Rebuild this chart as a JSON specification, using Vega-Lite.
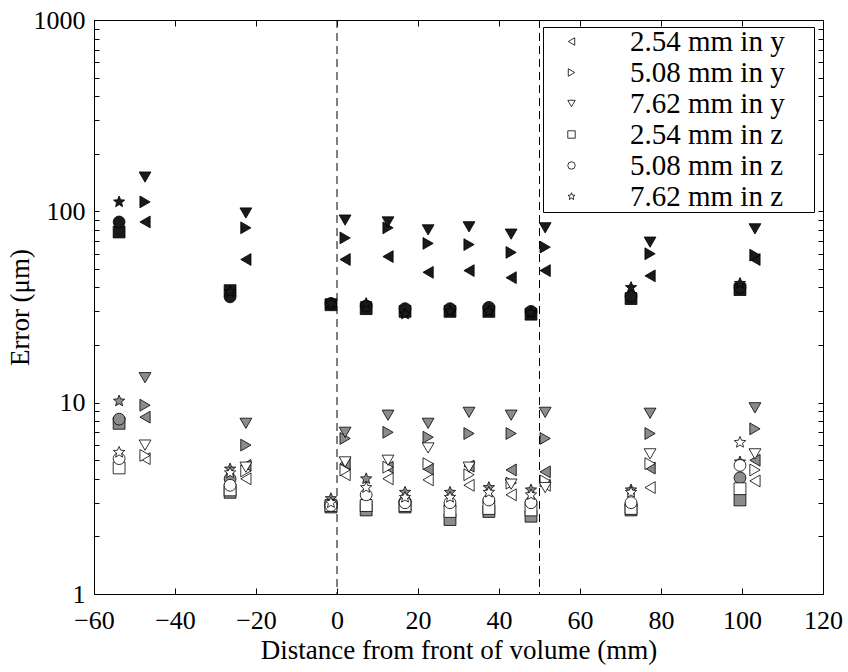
{
  "$schema": "https://vega.github.io/schema/vega-lite/v6.json",
  "autosize": {"type": "none"},
  "padding": {"left": 94, "top": 20, "right": 25, "bottom": 78},
  "width": 729,
  "height": 574,
  "background": "white",
  "config": {
    "view": {"stroke": "black", "strokeWidth": 1},
    "font": "Liberation Serif",
    "text": {"font": "Liberation Serif"},
    "legend": {"labelFont": "Liberation Serif", "titleFont": "Liberation Serif"},
    "axis": {"labelFont": "Liberation Serif", "titleFont": "Liberation Serif", "labelFontSize": 26, "titleFontSize": 27, "titleFontWeight": "normal", "labelColor": "black", "titleColor": "black", "grid": false, "domain": false, "tickColor": "black", "tickSize": -6, "tickWidth": 1, "labelFlush": false, "labelOverlap": false}
  },
  "datasets": {
    "pts": [
      {"d": -53.8, "s": "2.54 mm in z", "k": "max", "e": 78},
      {"d": -53.8, "s": "5.08 mm in z", "k": "max", "e": 88},
      {"d": -53.8, "s": "7.62 mm in z", "k": "max", "e": 112},
      {"d": -26.4, "s": "2.54 mm in z", "k": "max", "e": 38.5},
      {"d": -26.4, "s": "5.08 mm in z", "k": "max", "e": 35.7},
      {"d": -26.4, "s": "7.62 mm in z", "k": "max", "e": 38},
      {"d": -1.5, "s": "2.54 mm in z", "k": "max", "e": 32.5},
      {"d": -1.5, "s": "5.08 mm in z", "k": "max", "e": 33},
      {"d": -1.5, "s": "7.62 mm in z", "k": "max", "e": 33},
      {"d": 7.2, "s": "2.54 mm in z", "k": "max", "e": 31},
      {"d": 7.2, "s": "5.08 mm in z", "k": "max", "e": 32},
      {"d": 7.2, "s": "7.62 mm in z", "k": "max", "e": 33},
      {"d": 16.8, "s": "2.54 mm in z", "k": "max", "e": 30},
      {"d": 16.8, "s": "5.08 mm in z", "k": "max", "e": 31},
      {"d": 16.8, "s": "7.62 mm in z", "k": "max", "e": 29},
      {"d": 27.9, "s": "2.54 mm in z", "k": "max", "e": 30},
      {"d": 27.9, "s": "5.08 mm in z", "k": "max", "e": 31},
      {"d": 27.9, "s": "7.62 mm in z", "k": "max", "e": 30},
      {"d": 37.5, "s": "2.54 mm in z", "k": "max", "e": 30},
      {"d": 37.5, "s": "5.08 mm in z", "k": "max", "e": 31.5},
      {"d": 37.5, "s": "7.62 mm in z", "k": "max", "e": 30},
      {"d": 47.9, "s": "2.54 mm in z", "k": "max", "e": 29},
      {"d": 47.9, "s": "5.08 mm in z", "k": "max", "e": 30},
      {"d": 47.9, "s": "7.62 mm in z", "k": "max", "e": 29.5},
      {"d": 72.6, "s": "2.54 mm in z", "k": "max", "e": 35},
      {"d": 72.6, "s": "5.08 mm in z", "k": "max", "e": 36},
      {"d": 72.6, "s": "7.62 mm in z", "k": "max", "e": 40},
      {"d": 99.5, "s": "2.54 mm in z", "k": "max", "e": 39},
      {"d": 99.5, "s": "5.08 mm in z", "k": "max", "e": 40},
      {"d": 99.5, "s": "7.62 mm in z", "k": "max", "e": 42},
      {"d": -47.4, "s": "2.54 mm in y", "k": "max", "e": 88},
      {"d": -47.4, "s": "5.08 mm in y", "k": "max", "e": 112},
      {"d": -47.4, "s": "7.62 mm in y", "k": "max", "e": 151},
      {"d": -22.5, "s": "2.54 mm in y", "k": "max", "e": 56},
      {"d": -22.5, "s": "5.08 mm in y", "k": "max", "e": 82},
      {"d": -22.5, "s": "7.62 mm in y", "k": "max", "e": 98},
      {"d": 2, "s": "2.54 mm in y", "k": "max", "e": 56},
      {"d": 2, "s": "5.08 mm in y", "k": "max", "e": 72.6},
      {"d": 2, "s": "7.62 mm in y", "k": "max", "e": 90},
      {"d": 12.6, "s": "2.54 mm in y", "k": "max", "e": 58},
      {"d": 12.6, "s": "5.08 mm in y", "k": "max", "e": 82},
      {"d": 12.6, "s": "7.62 mm in y", "k": "max", "e": 88},
      {"d": 22.5, "s": "2.54 mm in y", "k": "max", "e": 48},
      {"d": 22.5, "s": "5.08 mm in y", "k": "max", "e": 68},
      {"d": 22.5, "s": "7.62 mm in y", "k": "max", "e": 80},
      {"d": 32.6, "s": "2.54 mm in y", "k": "max", "e": 49},
      {"d": 32.6, "s": "5.08 mm in y", "k": "max", "e": 67},
      {"d": 32.6, "s": "7.62 mm in y", "k": "max", "e": 83},
      {"d": 43, "s": "2.54 mm in y", "k": "max", "e": 45},
      {"d": 43, "s": "5.08 mm in y", "k": "max", "e": 61},
      {"d": 43, "s": "7.62 mm in y", "k": "max", "e": 76},
      {"d": 51.4, "s": "2.54 mm in y", "k": "max", "e": 49},
      {"d": 51.4, "s": "5.08 mm in y", "k": "max", "e": 65},
      {"d": 51.4, "s": "7.62 mm in y", "k": "max", "e": 82},
      {"d": 77.3, "s": "2.54 mm in y", "k": "max", "e": 46},
      {"d": 77.3, "s": "5.08 mm in y", "k": "max", "e": 60},
      {"d": 77.3, "s": "7.62 mm in y", "k": "max", "e": 69},
      {"d": 103.2, "s": "2.54 mm in y", "k": "max", "e": 56},
      {"d": 103.2, "s": "5.08 mm in y", "k": "max", "e": 59},
      {"d": 103.2, "s": "7.62 mm in y", "k": "max", "e": 81},
      {"d": -53.8, "s": "2.54 mm in z", "k": "mid", "e": 7.8},
      {"d": -53.8, "s": "5.08 mm in z", "k": "mid", "e": 8.2},
      {"d": -53.8, "s": "7.62 mm in z", "k": "mid", "e": 10.2},
      {"d": -26.4, "s": "2.54 mm in z", "k": "mid", "e": 3.4},
      {"d": -26.4, "s": "5.08 mm in z", "k": "mid", "e": 4.0},
      {"d": -26.4, "s": "7.62 mm in z", "k": "mid", "e": 4.5},
      {"d": -1.5, "s": "2.54 mm in z", "k": "mid", "e": 2.85},
      {"d": -1.5, "s": "5.08 mm in z", "k": "mid", "e": 2.95},
      {"d": -1.5, "s": "7.62 mm in z", "k": "mid", "e": 3.15},
      {"d": 7.2, "s": "2.54 mm in z", "k": "mid", "e": 2.75},
      {"d": 7.2, "s": "5.08 mm in z", "k": "mid", "e": 3.0},
      {"d": 7.2, "s": "7.62 mm in z", "k": "mid", "e": 4.0},
      {"d": 16.8, "s": "2.54 mm in z", "k": "mid", "e": 2.85},
      {"d": 16.8, "s": "5.08 mm in z", "k": "mid", "e": 3.05},
      {"d": 16.8, "s": "7.62 mm in z", "k": "mid", "e": 3.4},
      {"d": 27.9, "s": "2.54 mm in z", "k": "mid", "e": 2.45},
      {"d": 27.9, "s": "5.08 mm in z", "k": "mid", "e": 2.9},
      {"d": 27.9, "s": "7.62 mm in z", "k": "mid", "e": 3.4},
      {"d": 37.5, "s": "2.54 mm in z", "k": "mid", "e": 2.7},
      {"d": 37.5, "s": "5.08 mm in z", "k": "mid", "e": 3.05},
      {"d": 37.5, "s": "7.62 mm in z", "k": "mid", "e": 3.6},
      {"d": 47.9, "s": "2.54 mm in z", "k": "mid", "e": 2.55},
      {"d": 47.9, "s": "5.08 mm in z", "k": "mid", "e": 3.0},
      {"d": 47.9, "s": "7.62 mm in z", "k": "mid", "e": 3.5},
      {"d": 72.6, "s": "2.54 mm in z", "k": "mid", "e": 2.75},
      {"d": 72.6, "s": "5.08 mm in z", "k": "mid", "e": 2.9},
      {"d": 72.6, "s": "7.62 mm in z", "k": "mid", "e": 3.5},
      {"d": 99.5, "s": "2.54 mm in z", "k": "mid", "e": 3.1},
      {"d": 99.5, "s": "5.08 mm in z", "k": "mid", "e": 4.05},
      {"d": 99.5, "s": "7.62 mm in z", "k": "mid", "e": 4.9},
      {"d": -47.4, "s": "2.54 mm in y", "k": "mid", "e": 8.4},
      {"d": -47.4, "s": "5.08 mm in y", "k": "mid", "e": 9.7},
      {"d": -47.4, "s": "7.62 mm in y", "k": "mid", "e": 13.5},
      {"d": -22.5, "s": "2.54 mm in y", "k": "mid", "e": 4.7},
      {"d": -22.5, "s": "5.08 mm in y", "k": "mid", "e": 6.0},
      {"d": -22.5, "s": "7.62 mm in y", "k": "mid", "e": 7.8},
      {"d": 2, "s": "2.54 mm in y", "k": "mid", "e": 4.8},
      {"d": 2, "s": "5.08 mm in y", "k": "mid", "e": 6.5},
      {"d": 2, "s": "7.62 mm in y", "k": "mid", "e": 7.0},
      {"d": 12.6, "s": "2.54 mm in y", "k": "mid", "e": 4.6},
      {"d": 12.6, "s": "5.08 mm in y", "k": "mid", "e": 7.0},
      {"d": 12.6, "s": "7.62 mm in y", "k": "mid", "e": 8.6},
      {"d": 22.5, "s": "2.54 mm in y", "k": "mid", "e": 4.5},
      {"d": 22.5, "s": "5.08 mm in y", "k": "mid", "e": 6.6},
      {"d": 22.5, "s": "7.62 mm in y", "k": "mid", "e": 7.8},
      {"d": 32.6, "s": "2.54 mm in y", "k": "mid", "e": 4.66},
      {"d": 32.6, "s": "5.08 mm in y", "k": "mid", "e": 6.9},
      {"d": 32.6, "s": "7.62 mm in y", "k": "mid", "e": 8.9},
      {"d": 43, "s": "2.54 mm in y", "k": "mid", "e": 4.45},
      {"d": 43, "s": "5.08 mm in y", "k": "mid", "e": 6.9},
      {"d": 43, "s": "7.62 mm in y", "k": "mid", "e": 8.6},
      {"d": 51.4, "s": "2.54 mm in y", "k": "mid", "e": 4.35},
      {"d": 51.4, "s": "5.08 mm in y", "k": "mid", "e": 6.5},
      {"d": 51.4, "s": "7.62 mm in y", "k": "mid", "e": 8.9},
      {"d": 77.3, "s": "2.54 mm in y", "k": "mid", "e": 4.55},
      {"d": 77.3, "s": "5.08 mm in y", "k": "mid", "e": 6.9},
      {"d": 77.3, "s": "7.62 mm in y", "k": "mid", "e": 8.8},
      {"d": 103.2, "s": "2.54 mm in y", "k": "mid", "e": 5.0},
      {"d": 103.2, "s": "5.08 mm in y", "k": "mid", "e": 7.3},
      {"d": 103.2, "s": "7.62 mm in y", "k": "mid", "e": 9.4},
      {"d": -53.8, "s": "2.54 mm in z", "k": "min", "e": 4.56},
      {"d": -53.8, "s": "5.08 mm in z", "k": "min", "e": 5.1},
      {"d": -53.8, "s": "7.62 mm in z", "k": "min", "e": 5.5},
      {"d": -26.4, "s": "2.54 mm in z", "k": "min", "e": 3.5},
      {"d": -26.4, "s": "5.08 mm in z", "k": "min", "e": 3.7},
      {"d": -26.4, "s": "7.62 mm in z", "k": "min", "e": 4.3},
      {"d": -1.5, "s": "2.54 mm in z", "k": "min", "e": 2.9},
      {"d": -1.5, "s": "5.08 mm in z", "k": "min", "e": 2.9},
      {"d": -1.5, "s": "7.62 mm in z", "k": "min", "e": 3.0},
      {"d": 7.2, "s": "2.54 mm in z", "k": "min", "e": 2.9},
      {"d": 7.2, "s": "5.08 mm in z", "k": "min", "e": 3.3},
      {"d": 7.2, "s": "7.62 mm in z", "k": "min", "e": 3.6},
      {"d": 16.8, "s": "2.54 mm in z", "k": "min", "e": 2.9},
      {"d": 16.8, "s": "5.08 mm in z", "k": "min", "e": 3.0},
      {"d": 16.8, "s": "7.62 mm in z", "k": "min", "e": 3.2},
      {"d": 27.9, "s": "2.54 mm in z", "k": "min", "e": 2.7},
      {"d": 27.9, "s": "5.08 mm in z", "k": "min", "e": 3.0},
      {"d": 27.9, "s": "7.62 mm in z", "k": "min", "e": 3.2},
      {"d": 37.5, "s": "2.54 mm in z", "k": "min", "e": 2.8},
      {"d": 37.5, "s": "5.08 mm in z", "k": "min", "e": 3.1},
      {"d": 37.5, "s": "7.62 mm in z", "k": "min", "e": 3.4},
      {"d": 47.9, "s": "2.54 mm in z", "k": "min", "e": 2.75},
      {"d": 47.9, "s": "5.08 mm in z", "k": "min", "e": 3.0},
      {"d": 47.9, "s": "7.62 mm in z", "k": "min", "e": 3.3},
      {"d": 72.6, "s": "2.54 mm in z", "k": "min", "e": 2.8},
      {"d": 72.6, "s": "5.08 mm in z", "k": "min", "e": 3.0},
      {"d": 72.6, "s": "7.62 mm in z", "k": "min", "e": 3.4},
      {"d": 99.5, "s": "2.54 mm in z", "k": "min", "e": 3.55},
      {"d": 99.5, "s": "5.08 mm in z", "k": "min", "e": 4.7},
      {"d": 99.5, "s": "7.62 mm in z", "k": "min", "e": 6.2},
      {"d": -47.4, "s": "2.54 mm in y", "k": "min", "e": 5.1},
      {"d": -47.4, "s": "5.08 mm in y", "k": "min", "e": 5.3},
      {"d": -47.4, "s": "7.62 mm in y", "k": "min", "e": 6.0},
      {"d": -22.5, "s": "2.54 mm in y", "k": "min", "e": 4.0},
      {"d": -22.5, "s": "5.08 mm in y", "k": "min", "e": 4.4},
      {"d": -22.5, "s": "7.62 mm in y", "k": "min", "e": 4.6},
      {"d": 2, "s": "2.54 mm in y", "k": "min", "e": 4.2},
      {"d": 2, "s": "5.08 mm in y", "k": "min", "e": 4.45},
      {"d": 2, "s": "7.62 mm in y", "k": "min", "e": 4.9},
      {"d": 12.6, "s": "2.54 mm in y", "k": "min", "e": 4.0},
      {"d": 12.6, "s": "5.08 mm in y", "k": "min", "e": 4.6},
      {"d": 12.6, "s": "7.62 mm in y", "k": "min", "e": 5.0},
      {"d": 22.5, "s": "2.54 mm in y", "k": "min", "e": 3.95},
      {"d": 22.5, "s": "5.08 mm in y", "k": "min", "e": 4.8},
      {"d": 22.5, "s": "7.62 mm in y", "k": "min", "e": 5.8},
      {"d": 32.6, "s": "2.54 mm in y", "k": "min", "e": 3.7},
      {"d": 32.6, "s": "5.08 mm in y", "k": "min", "e": 4.2},
      {"d": 32.6, "s": "7.62 mm in y", "k": "min", "e": 4.6},
      {"d": 43, "s": "2.54 mm in y", "k": "min", "e": 3.3},
      {"d": 43, "s": "5.08 mm in y", "k": "min", "e": 3.8},
      {"d": 43, "s": "7.62 mm in y", "k": "min", "e": 3.75},
      {"d": 51.4, "s": "2.54 mm in y", "k": "min", "e": 3.7},
      {"d": 51.4, "s": "5.08 mm in y", "k": "min", "e": 3.9},
      {"d": 51.4, "s": "7.62 mm in y", "k": "min", "e": 3.6},
      {"d": 77.3, "s": "2.54 mm in y", "k": "min", "e": 3.6},
      {"d": 77.3, "s": "5.08 mm in y", "k": "min", "e": 4.8},
      {"d": 77.3, "s": "7.62 mm in y", "k": "min", "e": 5.4},
      {"d": 103.2, "s": "2.54 mm in y", "k": "min", "e": 3.9},
      {"d": 103.2, "s": "5.08 mm in y", "k": "min", "e": 4.45},
      {"d": 103.2, "s": "7.62 mm in y", "k": "min", "e": 5.4}
    ],
    "lines": [{"d": 0}, {"d": 50}]
  },
  "layer": [
    {
      "data": {"name": "lines"},
      "mark": {"type": "rule", "color": "black", "strokeWidth": 1, "strokeDash": [8, 5]},
      "encoding": {
        "x": {"field": "d", "type": "quantitative", "scale": {"domain": [-60, 120], "nice": false}, "axis": {"orient": "top", "labels": false, "title": null, "values": [-60, -40, -20, 0, 20, 40, 60, 80, 100, 120], "tickSize": -6}}
      }
    },
    {
      "data": {"name": "pts"},
      "mark": {"type": "point", "opacity": 0},
      "encoding": {
        "x": {"field": "d", "type": "quantitative", "axis": null},
        "y": {"field": "e", "type": "quantitative", "scale": {"type": "log", "domain": [1, 1000], "nice": false}, "axis": {"orient": "right", "labels": false, "title": null, "values": [1,2,3,4,5,6,7,8,9,10,20,30,40,50,60,70,80,90,100,200,300,400,500,600,700,800,900,1000], "tickSize": -5}}
      }
    },
    {
      "data": {"name": "pts"},
      "mark": {"type": "point", "filled": true, "stroke": "black", "strokeWidth": 0.8, "size": 140, "opacity": 1},
      "encoding": {
        "x": {"field": "d", "type": "quantitative", "scale": {"domain": [-60, 120], "nice": false}, "axis": {"orient": "bottom", "title": "Distance from front of volume (mm)", "values": [-60, -40, -20, 0, 20, 40, 60, 80, 100, 120], "labelPadding": 19, "titlePadding": 4}},
        "y": {"field": "e", "type": "quantitative", "scale": {"type": "log", "domain": [1, 1000], "nice": false}, "axis": {"orient": "left", "title": "Error (μm)", "values": [1,2,3,4,5,6,7,8,9,10,20,30,40,50,60,70,80,90,100,200,300,400,500,600,700,800,900,1000], "labelExpr": "indexof([1,10,100,1000], datum.value) >= 0 ? datum.label : ''", "format": "d", "tickSize": -5, "labelPadding": 14, "titleX": -74, "titleY": 287, "titleAngle": 270, "titleAlign": "center", "titleBaseline": "middle"}},
        "fill": {"field": "k", "type": "nominal", "scale": {"domain": ["max", "mid", "min"], "range": ["#1a1a1a", "#8c8c8c", "#ffffff"]}, "legend": null},
        "shape": {
          "field": "s", "type": "nominal",
          "scale": {
            "domain": ["2.54 mm in y", "5.08 mm in y", "7.62 mm in y", "2.54 mm in z", "5.08 mm in z", "7.62 mm in z"],
            "range": ["triangle-left", "triangle-right", "triangle-down", "square", "circle", "M0,-1L0.2645,-0.364L0.951,-0.309L0.428,0.139L0.588,0.809L0,0.45L-0.588,0.809L-0.428,0.139L-0.951,-0.309L-0.2645,-0.364Z"]
          },
          "legend": {
            "title": null, "orient": "none", "legendX": 449, "legendY": 7,
            "fillColor": "white", "strokeColor": "black", "padding": 0,
            "labelFont": "Liberation Serif", "labelFontSize": 29, "labelColor": "black",
            "labelExpr": "datum.label + '\u2003\u200b'",
            "symbolSize": 55, "symbolFillColor": "white", "symbolStrokeColor": "black", "symbolStrokeWidth": 0.8,
            "symbolOffset": 14, "labelOffset": 44, "rowPadding": 1, "labelLimit": 400
          }
        }
      }
    }
  ],
  "resolve": {"axis": {"x": "independent", "y": "independent"}}
}
